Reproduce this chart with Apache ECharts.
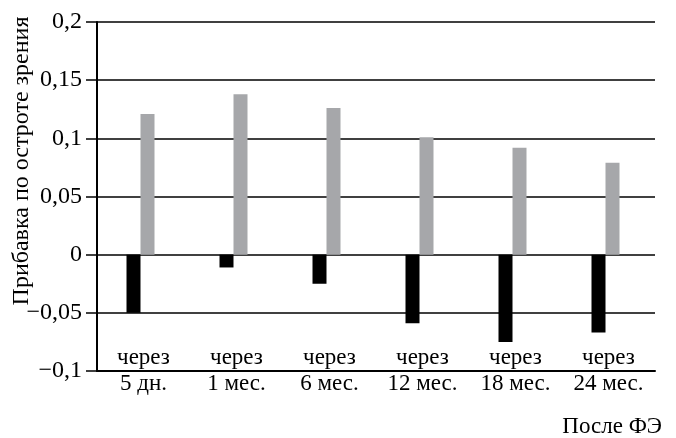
<!DOCTYPE html>
<html>
<head>
<meta charset="utf-8">
<script src="https://cdn.jsdelivr.net/npm/echarts@6/dist/echarts.min.js"></script>
<style>
html,body{margin:0;padding:0;background:#fff;}
#chart{width:676px;height:438px;}
</style>
</head>
<body>
<div id="chart"></div>
<script>
// категории и значения
var categories = ['через\n5 дн.', 'через\n1 мес.', 'через\n6 мес.', 'через\n12 мес.', 'через\n18 мес.', 'через\n24 мес.'];
var blackValues = [-0.05, -0.011, -0.025, -0.059, -0.075, -0.067];
var grayValues = [0.121, 0.138, 0.126, 0.101, 0.092, 0.079];
var yMin = -0.1, yMax = 0.2, yStep = 0.05;

var FONT = '"Liberation Serif", "DejaVu Serif", serif';

function fmt(v){
	var s = String(+v.toFixed(2));
	return s.replace('.', ',').replace('-', '\u2212');
}

var myChart = echarts.init(document.getElementById('chart'), null, {renderer:'canvas'});
var option = {
	animation : false,
	backgroundColor : '#fff',
	grid : [
		{ left : 97, right : 21, top : 22, bottom : 67 },
		// сетка для столбцов, чуть смещена влево как в оригинале
		{ left : 94, right : 24, top : 22, bottom : 67 }
	],
	xAxis : [
		{
			type : 'category',
			gridIndex : 0,
			data : categories,
			axisLine : { onZero : false, lineStyle : { color : '#000', width : 2 } },
			axisTick : { show : false },
			axisLabel : {
				color : '#000',
				fontFamily : FONT,
				fontSize : 23,
				lineHeight : 26,
				margin : -26,
				interval : 0
			}
		},
		{
			type : 'category',
			gridIndex : 1,
			data : categories,
			show : false
		}
	],
	yAxis : [
		{
			type : 'value',
			gridIndex : 0,
			min : yMin,
			max : yMax,
			interval : yStep,
			axisLine : { show : true, lineStyle : { color : '#000', width : 2 } },
			axisTick : { show : true, length : 11, lineStyle : { color : '#000', width : 1.5 } },
			splitLine : { show : true, lineStyle : { color : '#000', width : 1.5 } },
			axisLabel : {
				color : '#000',
				fontFamily : FONT,
				fontSize : 24,
				margin : 15,
				formatter : fmt
			}
		},
		{
			type : 'value',
			gridIndex : 1,
			min : yMin,
			max : yMax,
			interval : yStep,
			show : false,
			splitLine : { show : false }
		}
	],
	graphic : [
		{
			type : 'text',
			x : 22,
			y : 161,
			rotation : Math.PI / 2,
			style : {
				text : 'Прибавка по остроте зрения',
				fill : '#000',
				font : '24px ' + FONT,
				textAlign : 'center',
				textVerticalAlign : 'middle'
			}
		},
		{
			type : 'text',
			x : 662,
			y : 427,
			style : {
				text : 'После ФЭ',
				fill : '#000',
				font : '23px ' + FONT,
				textAlign : 'right',
				textVerticalAlign : 'middle'
			}
		}
	],
	series : [
		{
			name : 'black',
			type : 'bar',
			xAxisIndex : 1,
			yAxisIndex : 1,
			data : blackValues,
			barWidth : 14,
			barGap : 0,
			itemStyle : { color : '#000' }
		},
		{
			name : 'gray',
			type : 'bar',
			xAxisIndex : 1,
			yAxisIndex : 1,
			data : grayValues,
			barWidth : 14,
			barGap : 0,
			itemStyle : { color : '#a6a7aa' }
		}
	]
};
myChart.setOption(option);
</script>
</body>
</html>
